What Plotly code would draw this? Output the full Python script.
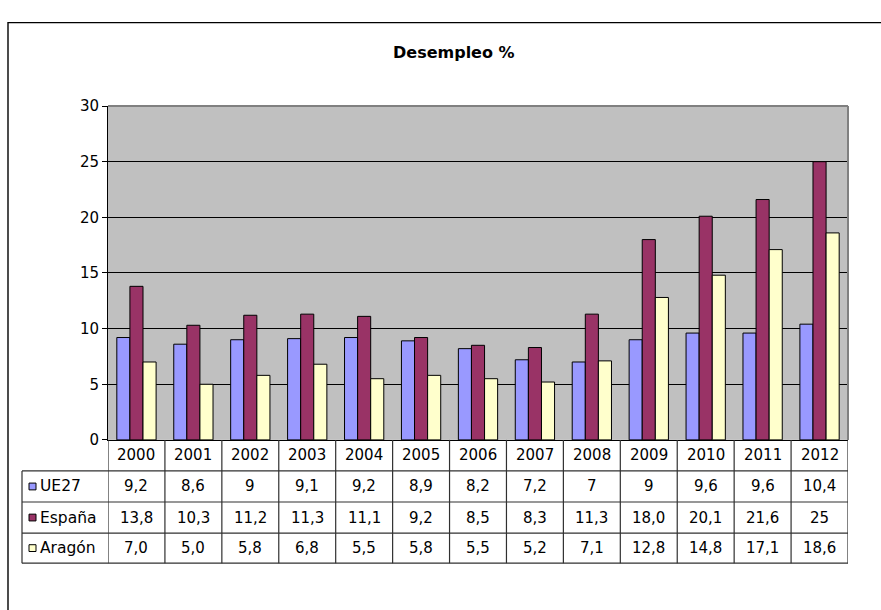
import plotly.graph_objects as go

# Unemployment rates (%), as printed in the data table
years = ["2000", "2001", "2002", "2003", "2004", "2005", "2006",
         "2007", "2008", "2009", "2010", "2011", "2012"]
series_names = ["UE27", "España", "Aragón"]
ue27_labels = ["9,2", "8,6", "9", "9,1", "9,2", "8,9", "8,2", "7,2", "7", "9", "9,6", "9,6", "10,4"]
espana_labels = ["13,8", "10,3", "11,2", "11,3", "11,1", "9,2", "8,5", "8,3", "11,3", "18,0", "20,1", "21,6", "25"]
aragon_labels = ["7,0", "5,0", "5,8", "6,8", "5,5", "5,8", "5,5", "5,2", "7,1", "12,8", "14,8", "17,1", "18,6"]
series_colors = ["#9999FF", "#993366", "#FFFFCC"]
y_ticks = [0, 5, 10, 15, 20, 25, 30]

W, H = 881, 610
FONT = "DejaVu Sans"


def to_num(s):
    return float(s.replace(",", "."))


def py(px):
    """Pixel row -> paper y."""
    return 1 - px / H


def pxx(px):
    """Pixel column -> paper x."""
    return px / W


label_rows = [ue27_labels, espana_labels, aragon_labels]

fig = go.Figure()
for name, labels, color in zip(series_names, label_rows, series_colors):
    fig.add_trace(go.Bar(
        x=years,
        y=[to_num(s) for s in labels],
        name=name,
        marker=dict(color=color, line=dict(color="black", width=1)),
        showlegend=False,
    ))

plot_left, plot_right = 108, 848
plot_top, plot_bottom = 100, 444
row_edges = [444, 476, 508, 540, 571]
table_left = 22
line_col = "#303030"

shapes = []
# outer chart frame
shapes.append(dict(type="rect", xref="paper", yref="paper",
                   x0=pxx(8), x1=pxx(W + 20), y0=py(14), y1=py(H + 20),
                   line=dict(color="black", width=1.4), layer="below"))
# plot area border (gray) on top and right
shapes.append(dict(type="line", xref="paper", yref="paper",
                   x0=pxx(plot_left), x1=pxx(plot_right), y0=py(plot_top), y1=py(plot_top),
                   line=dict(color="#808080", width=2)))
shapes.append(dict(type="line", xref="paper", yref="paper",
                   x0=pxx(plot_right), x1=pxx(plot_right), y0=py(plot_top), y1=py(plot_bottom),
                   line=dict(color="#808080", width=2)))

# data table: vertical lines at category boundaries
for i in range(len(years) + 1):
    shapes.append(dict(type="line", xref="x", yref="paper",
                       x0=i - 0.5, x1=i - 0.5, y0=py(row_edges[0]), y1=py(row_edges[-1]),
                       line=dict(color=line_col, width=1.2)))
# left column edge
shapes.append(dict(type="line", xref="paper", yref="paper",
                   x0=pxx(table_left), x1=pxx(table_left), y0=py(row_edges[1]), y1=py(row_edges[-1]),
                   line=dict(color=line_col, width=1.2)))
# horizontal row lines
for r in row_edges[1:]:
    shapes.append(dict(type="line", xref="paper", yref="paper",
                       x0=pxx(table_left), x1=pxx(plot_right), y0=py(r), y1=py(r),
                       line=dict(color=line_col, width=1.2)))

annotations = []
# title
annotations.append(dict(text="<b>Desempleo %</b>", xref="paper", yref="paper",
                        x=pxx(454), y=py(45), xanchor="center", yanchor="middle",
                        showarrow=False, font=dict(family=FONT, size=16, color="black")))
# header row with years
hy = py((row_edges[0] + row_edges[1]) / 2)
for i, yr in enumerate(years):
    annotations.append(dict(text=yr, xref="x", yref="paper", x=i, y=hy,
                            xanchor="center", yanchor="middle", showarrow=False,
                            font=dict(family=FONT, size=15, color="black")))
# series rows
for k, (name, labels, color) in enumerate(zip(series_names, label_rows, series_colors)):
    top, bot = row_edges[k + 1], row_edges[k + 2]
    mid = (top + bot) / 2
    for i, s in enumerate(labels):
        annotations.append(dict(text=s, xref="x", yref="paper", x=i, y=py(mid),
                                xanchor="center", yanchor="middle", showarrow=False,
                                font=dict(family=FONT, size=15, color="black")))
    annotations.append(dict(text=name, xref="paper", yref="paper", x=pxx(38), y=py(mid),
                            xanchor="left", yanchor="middle", showarrow=False,
                            font=dict(family=FONT, size=15.5, color="black")))
    shapes.append(dict(type="rect", xref="paper", yref="paper",
                       x0=pxx(29), x1=pxx(36), y0=py(mid - 3.5), y1=py(mid + 3.5),
                       fillcolor=color, line=dict(color="black", width=1)))

fig.update_layout(
    width=W, height=H,
    margin=dict(l=0, r=0, t=0, b=0),
    paper_bgcolor="white",
    plot_bgcolor="#C0C0C0",
    barmode="group",
    bargap=0.31,
    bargroupgap=0,
    shapes=shapes,
    annotations=annotations,
    font=dict(family=FONT, size=15, color="black"),
    xaxis=dict(domain=[pxx(plot_left), pxx(plot_right)], range=[-0.5, len(years) - 0.5],
               showticklabels=False, ticks="", showgrid=False, zeroline=False,
               showline=True, linecolor="black", linewidth=1),
    yaxis=dict(domain=[py(plot_bottom), py(plot_top)], range=[0, 30],
               tickvals=y_ticks, ticks="outside", ticklen=5, tickcolor="black",
               showgrid=True, gridcolor="black", gridwidth=1, zeroline=False,
               showline=True, linecolor="black", linewidth=1,
               tickfont=dict(family=FONT, size=15, color="black")),
)

# page without body margin so the 881x610 figure fills the window exactly
fig.write_html("out.html", post_script="document.body.style.margin='0';")
